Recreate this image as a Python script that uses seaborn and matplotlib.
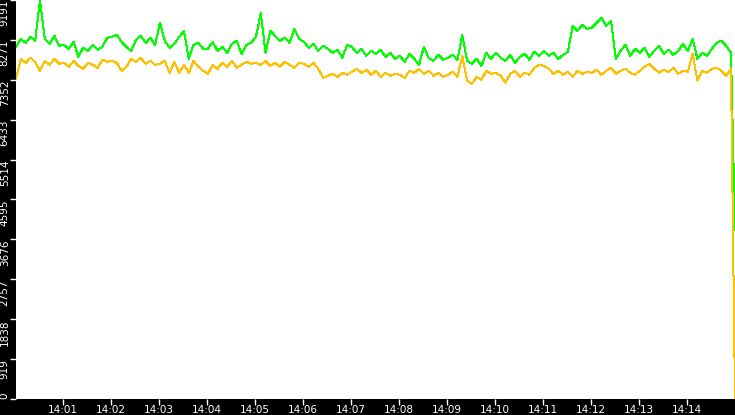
import numpy as np
import pandas as pd
import matplotlib
matplotlib.use("Agg")
import matplotlib.pyplot as plt
import seaborn as sns

# samples every 6 s from 14:00:01, plus the final sample at 14:15:00
day = "2024-01-01"
start_time = "14:00:01"
end_time = "14:15:00"

green_values = [
    8112, 8296, 8204, 8342, 8250, 9191, 8296, 8181, 8365, 8135,
    8158, 8066, 8227, 7882, 8089, 8020, 8158, 8043, 8112, 8319,
    8342, 8388, 8227, 8112, 8020, 8273, 8365, 8204, 8319, 8158,
    8663, 8250, 8089, 8181, 8342, 8480, 7836, 8158, 8204, 8066,
    8066, 8227, 8020, 8112, 7974, 8181, 8250, 7951, 8158, 8204,
    8342, 8893, 7974, 8480, 8365, 8250, 8319, 8204, 8526, 8296,
    8227, 8089, 8181, 8020, 8135, 8066, 7974, 8043, 7859, 8158,
    8112, 7974, 8066, 7905, 8020, 7951, 8043, 7882, 7974, 7836,
    7905, 7767, 7951, 7836, 7698, 8112, 7859, 7790, 7928, 7813,
    7859, 7928, 7813, 8388, 7790, 7721, 7836, 7675, 7974, 7836,
    7974, 7859, 7790, 7928, 7744, 7882, 7951, 7813, 7997, 7905,
    8020, 7905, 7974, 7836, 7928, 7997, 8594, 8480, 8617, 8526,
    8549, 8663, 8778, 8594, 8709, 7836, 8020, 8158, 7905, 8066,
    7974, 8089, 7882, 8020, 8135, 7951, 8043, 7928, 8020, 8181,
    8020, 8296, 7836, 7974, 7905, 8066, 8204, 8250, 8135, 7974,
    3884,
]

yellow_values = [
    7376, 7836, 7744, 7859, 7767, 7560, 7790, 7698, 7836, 7721,
    7744, 7652, 7790, 7675, 7606, 7744, 7698, 7629, 7813, 7767,
    7790, 7744, 7560, 7652, 7836, 7767, 7859, 7721, 7790, 7698,
    7721, 7790, 7514, 7767, 7514, 7698, 7514, 7790, 7652, 7560,
    7491, 7698, 7606, 7744, 7652, 7790, 7629, 7698, 7767, 7721,
    7744, 7698, 7790, 7675, 7744, 7652, 7767, 7698, 7629, 7744,
    7721, 7652, 7744, 7606, 7399, 7445, 7491, 7422, 7514, 7468,
    7537, 7606, 7514, 7583, 7468, 7560, 7422, 7514, 7445, 7491,
    7468, 7399, 7560, 7514, 7606, 7491, 7560, 7445, 7514, 7422,
    7468, 7537, 7422, 7905, 7330, 7262, 7422, 7353, 7560, 7491,
    7514, 7445, 7285, 7491, 7560, 7422, 7514, 7468, 7629, 7698,
    7675, 7606, 7491, 7560, 7468, 7537, 7422, 7560, 7491, 7537,
    7514, 7583, 7468, 7560, 7629, 7491, 7560, 7606, 7514, 7468,
    7560, 7652, 7721, 7606, 7514, 7583, 7537, 7629, 7491, 7560,
    7537, 7951, 7330, 7560, 7514, 7606, 7629, 7560, 7445, 7606,
    0,
]

x_tick_labels = ["14:01", "14:02", "14:03", "14:04", "14:05", "14:06", "14:07",
                 "14:08", "14:09", "14:10", "14:11", "14:12", "14:13", "14:14"]
y_ticks = [0, 919.1, 1838.2, 2757.3, 3676.4, 4595.5, 5514.6, 6433.7, 7352.8, 8271.9, 9191]
y_tick_labels = ["0", "919", "1838", "2757", "3676", "4595", "5514", "6433", "7352", "8271", "9191"]

t0 = pd.Timestamp(f"{day} {start_time}")
t1 = pd.Timestamp(f"{day} {end_time}")
times = list(pd.date_range(t0, periods=len(green_values) - 1, freq="6s")) + [t1]
data = pd.DataFrame({"Time": times, "Green": green_values, "Yellow": yellow_values})

fig = plt.figure(figsize=(7.35, 4.15), dpi=100, facecolor="black")
ax = fig.add_axes([16 / 735, 16 / 415, 719 / 735, 399 / 415])
ax.set_facecolor("white")

sns.lineplot(x="Time", y="Green", data=data, color="#00ff00", linewidth=0.72, antialiased=False, ax=ax)
sns.lineplot(x="Time", y="Yellow", data=data, color="#ffc000", linewidth=0.72, antialiased=False, ax=ax)

ax.set_xlim(t0, t1)
ax.set_ylim(0, 9191)
ax.set_xlabel("")
ax.set_ylabel("")
for spine in ax.spines.values():
    spine.set_visible(False)

ax.set_xticks([pd.Timestamp(f"{day} {lbl}") for lbl in x_tick_labels])
ax.set_xticklabels(x_tick_labels)
ax.set_yticks(y_ticks)
ax.set_yticklabels(y_tick_labels, rotation=90, va="top")
ax.get_yticklabels()[0].set_va("bottom")

ax.tick_params(colors="white", labelsize=7.5, length=4, width=1, pad=0.5)

fig.savefig("out.png", dpi=100, facecolor="black")
